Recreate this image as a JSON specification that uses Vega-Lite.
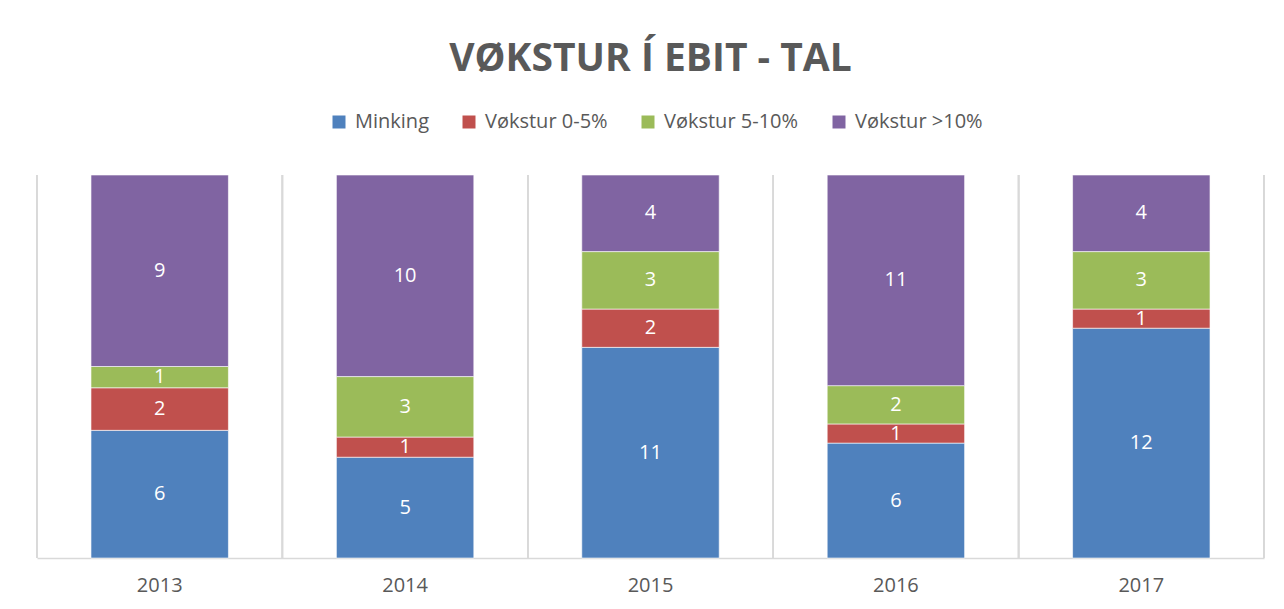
{
  "$schema": "https://vega.github.io/schema/vega-lite/v6.json",
  "width": 1227,
  "height": 383,
  "autosize": {"type": "none"},
  "padding": {"left": 37, "top": 175, "right": 20, "bottom": 51},
  "background": "white",
  "config": {"view": {"stroke": null}},
  "title": {
    "text": "VØKSTUR Í EBIT - TAL",
    "font": "Open Sans",
    "fontSize": 39,
    "fontWeight": "bold",
    "color": "#595959",
    "anchor": "middle",
    "offset": 33
  },
  "data": {
    "values": [
      {"year": "2013", "cat": "Minking", "n": 6, "k": 1},
      {"year": "2013", "cat": "Vøkstur 0-5%", "n": 2, "k": 2},
      {"year": "2013", "cat": "Vøkstur 5-10%", "n": 1, "k": 3},
      {"year": "2013", "cat": "Vøkstur >10%", "n": 9, "k": 4},
      {"year": "2014", "cat": "Minking", "n": 5, "k": 1},
      {"year": "2014", "cat": "Vøkstur 0-5%", "n": 1, "k": 2},
      {"year": "2014", "cat": "Vøkstur 5-10%", "n": 3, "k": 3},
      {"year": "2014", "cat": "Vøkstur >10%", "n": 10, "k": 4},
      {"year": "2015", "cat": "Minking", "n": 11, "k": 1},
      {"year": "2015", "cat": "Vøkstur 0-5%", "n": 2, "k": 2},
      {"year": "2015", "cat": "Vøkstur 5-10%", "n": 3, "k": 3},
      {"year": "2015", "cat": "Vøkstur >10%", "n": 4, "k": 4},
      {"year": "2016", "cat": "Minking", "n": 6, "k": 1},
      {"year": "2016", "cat": "Vøkstur 0-5%", "n": 1, "k": 2},
      {"year": "2016", "cat": "Vøkstur 5-10%", "n": 2, "k": 3},
      {"year": "2016", "cat": "Vøkstur >10%", "n": 11, "k": 4},
      {"year": "2017", "cat": "Minking", "n": 12, "k": 1},
      {"year": "2017", "cat": "Vøkstur 0-5%", "n": 1, "k": 2},
      {"year": "2017", "cat": "Vøkstur 5-10%", "n": 3, "k": 3},
      {"year": "2017", "cat": "Vøkstur >10%", "n": 4, "k": 4}
    ]
  },
  "layer": [
    {
      "mark": {"type": "bar", "stroke": "white", "strokeWidth": 0.6},
      "encoding": {
        "x": {
          "field": "year",
          "type": "nominal",
          "title": null,
          "scale": {"paddingInner": 0.44, "paddingOuter": 0.22},
          "axis": {
            "labelAngle": 0,
            "labelFont": "Open Sans",
            "labelFontSize": 20,
            "labelColor": "#595959",
            "labelPadding": 17,
            "bandPosition": 0.5,
            "ticks": false,
            "grid": false,
            "domainColor": "#d9d9d9",
            "domainWidth": 1.5
          }
        },
        "y": {
          "field": "n",
          "type": "quantitative",
          "stack": "normalize",
          "axis": null,
          "scale": {"domain": [0, 1], "nice": false}
        },
        "order": {"field": "k", "type": "quantitative"},
        "color": {
          "field": "cat",
          "type": "nominal",
          "scale": {
            "domain": ["Minking", "Vøkstur 0-5%", "Vøkstur 5-10%", "Vøkstur >10%"],
            "range": ["#4F81BD", "#C0504D", "#9BBB59", "#8064A2"]
          },
          "legend": {
            "title": null,
            "orient": "none",
            "direction": "horizontal",
            "legendX": 292,
            "legendY": -63,
            "symbolType": "square",
            "symbolSize": 169,
            "symbolStrokeWidth": 0,
            "labelFont": "Open Sans",
            "labelFontSize": 20,
            "labelColor": "#595959",
            "labelOffset": 6,
            "columnPadding": 30
          }
        }
      }
    },
    {
      "mark": {"type": "rule", "color": "#d9d9d9", "strokeWidth": 1.5},
      "encoding": {
        "x": {"field": "year", "type": "nominal", "bandPosition": -0.3929}
      }
    },
    {
      "transform": [{"filter": "datum.year == '2017'"}],
      "mark": {"type": "rule", "color": "#d9d9d9", "strokeWidth": 1.5},
      "encoding": {
        "x": {"field": "year", "type": "nominal", "bandPosition": 1.3929}
      }
    },
    {
      "mark": {"type": "text", "color": "white", "font": "Open Sans", "fontSize": 20, "baseline": "middle"},
      "encoding": {
        "x": {"field": "year", "type": "nominal"},
        "y": {
          "field": "n",
          "type": "quantitative",
          "stack": "normalize",
          "bandPosition": 0.5
        },
        "order": {"field": "k", "type": "quantitative"},
        "text": {"field": "n", "type": "quantitative"}
      }
    }
  ]
}
